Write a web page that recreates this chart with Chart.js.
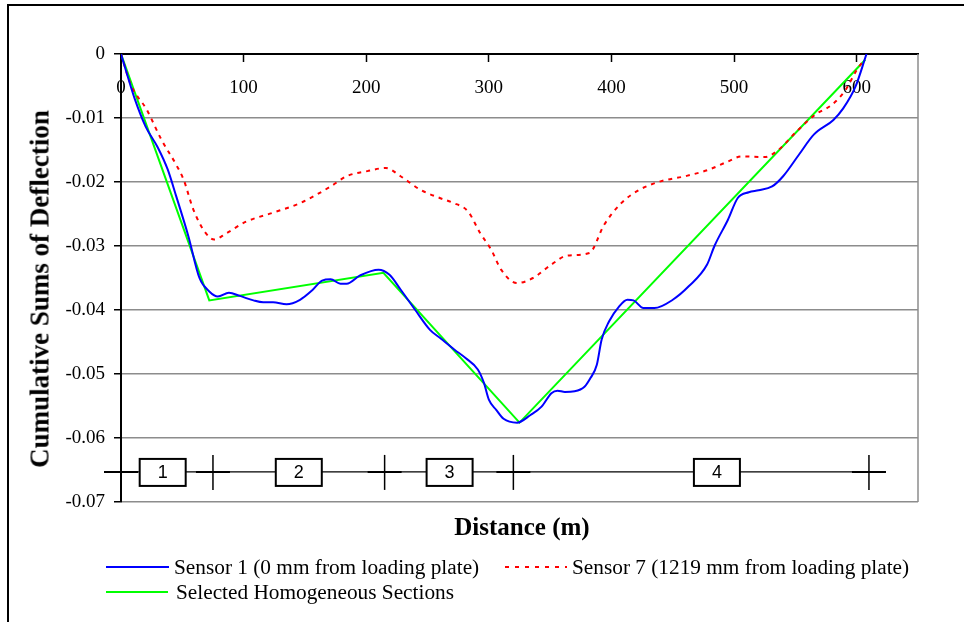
<!DOCTYPE html>
<html>
<head>
<meta charset="utf-8">
<script src="https://cdn.jsdelivr.net/npm/chart.js@4.4.1/dist/chart.umd.min.js"></script>
<style>
  html, body { margin: 0; padding: 0; background: #fff; }
  #wrap { position: relative; width: 964px; height: 622px; overflow: hidden; }
  #frame { position: absolute; left: 7px; top: 4px; width: 1000px; height: 700px; border-left: 2px solid #000; border-top: 2px solid #000; }
  canvas { position: absolute; left: 0; top: 0; }
  .txt { position: absolute; font-family: "Liberation Serif", "Times New Roman", serif; color: #000; white-space: nowrap; }
  .ytitle { font-weight: bold; font-size: 27px; left: 40px; top: 289px; transform: translate(-50%, -50%) rotate(-90deg); }
  .xtitle { font-weight: bold; font-size: 25px; left: 522px; top: 527px; transform: translate(-50%, -50%); }
  .leg { font-size: 21.3px; line-height: 24px; }
  .swatch { position: absolute; height: 2px; }
</style>
</head>
<body>
<div id="wrap">
  <div id="frame"></div>
  <canvas id="chart" width="964" height="622"></canvas>
  <div class="txt ytitle">Cumulative Sums of Deflection</div>
  <div class="txt xtitle">Distance (m)</div>
  <div class="swatch" style="left:106px; top:566px; width:63px; background:#0000ff;"></div>
  <div class="txt leg" style="left:174px; top:555px;">Sensor 1 (0 mm from loading plate)</div>
  <div class="swatch" style="left:505px; top:566px; width:62px; background:repeating-linear-gradient(to right, #ff0000 0 4px, transparent 4px 10px);"></div>
  <div class="txt leg" style="left:572px; top:555px;">Sensor 7 (1219 mm from loading plate)</div>
  <div class="swatch" style="left:106px; top:591px; width:62px; background:#00ff00;"></div>
  <div class="txt leg" style="left:176px; top:580px;">Selected Homogeneous Sections</div>
</div>
<script>
// Sensor 1 (0 mm from loading plate)
const sensor1Dist = [0, 5, 11, 20, 30, 38, 45, 55, 64, 72, 79, 88, 97, 108, 116, 124, 135, 146, 156, 164,
  171, 179, 184, 195, 210, 219, 228, 240, 252, 261, 272, 281, 291, 296, 300, 306, 312, 323, 334, 343,
  351, 356, 362, 370, 378, 383, 388, 392, 398, 406, 413, 418, 426, 435, 450, 463, 478, 484, 495, 503,
  512, 520, 531, 540, 553, 565, 581, 589, 599, 608];
const sensor1Vals = [0, -0.0032, -0.0069, -0.0113, -0.0146, -0.0180, -0.0222, -0.0285, -0.0350, -0.0371,
  -0.0379, -0.0373, -0.0378, -0.0385, -0.0388, -0.0388, -0.0391, -0.0384, -0.0369, -0.0354,
  -0.0352, -0.0359, -0.0359, -0.0346, -0.0337, -0.0345, -0.0368, -0.0400, -0.0431, -0.0445,
  -0.0462, -0.0475, -0.0493, -0.0514, -0.0540, -0.0556, -0.0570, -0.0576, -0.0564, -0.0551,
  -0.0530, -0.0526, -0.0528, -0.0527, -0.0520, -0.0506, -0.0486, -0.0446, -0.0418, -0.0395,
  -0.0384, -0.0385, -0.0397, -0.0397, -0.0384, -0.0363, -0.0329, -0.0300, -0.0259, -0.0225,
  -0.0216, -0.0213, -0.0207, -0.0191, -0.0157, -0.0126, -0.0103, -0.0085, -0.0051, 0];

// Sensor 7 (1219 mm from loading plate)
const sensor7Dist = [0, 8, 21, 33, 45, 51, 59, 68, 76, 86, 102, 124, 146, 171, 184, 201, 216, 228, 244, 260,
  270, 283, 293, 302, 310, 323, 336, 351, 364, 382, 394, 408, 423, 440, 460, 479, 495, 506, 525, 536,
  550, 566, 580, 591, 600, 605];
const sensor7Vals = [0, -0.0048, -0.0087, -0.0134, -0.0173, -0.0196, -0.0243, -0.0277, -0.0290, -0.0280,
  -0.0262, -0.0248, -0.0233, -0.0207, -0.0191, -0.0183, -0.0178, -0.0191, -0.0212, -0.0225,
  -0.0232, -0.0246, -0.0280, -0.0306, -0.0337, -0.0358, -0.0350, -0.0329, -0.0315, -0.0311,
  -0.0267, -0.0233, -0.0212, -0.0199, -0.0191, -0.0181, -0.0168, -0.0160, -0.0161, -0.0150,
  -0.0123, -0.0095, -0.0079, -0.0056, -0.0025, -0.0012];

// Selected homogeneous sections (fitted line)
const sectionDist = [0, 72, 214, 325, 607];
const sectionVals = [0, -0.0385, -0.0342, -0.0576, -0.0009];

// section marker bar under the curves
const sectionBounds = [0, 75, 215, 320, 610];
const sectionLabels = ['1', '2', '3', '4'];
const sectionLabelPos = [34, 145, 268, 486];
const sectionLevel = -0.0653;

const toPoints = (xs, ys) => xs.map((x, i) => ({ x: x, y: ys[i] }));

const serif = '"Liberation Serif", "Times New Roman", serif';

const sectionBar = {
  id: 'sectionBar',
  beforeDatasetsDraw(chart) {
    const { ctx, chartArea } = chart;
    ctx.save();
    ctx.strokeStyle = '#8c8c8c';
    ctx.lineWidth = 1.5;
    ctx.beginPath();
    ctx.moveTo(chartArea.right, chartArea.top);
    ctx.lineTo(chartArea.right, chartArea.bottom);
    ctx.stroke();
    ctx.restore();
  },
  afterDatasetsDraw(chart) {
    const { ctx, scales: { x, y } } = chart;
    const yy = y.getPixelForValue(sectionLevel);
    const first = x.getPixelForValue(sectionBounds[0]);
    const last = x.getPixelForValue(sectionBounds[sectionBounds.length - 1]);
    ctx.save();
    ctx.strokeStyle = '#000';
    ctx.lineWidth = 1.2;
    ctx.beginPath();
    ctx.moveTo(first - 17, yy);
    ctx.lineTo(last + 17, yy);
    ctx.stroke();

    sectionBounds.forEach(b => {
      const px = x.getPixelForValue(b);
      ctx.lineWidth = 2;
      ctx.beginPath();
      ctx.moveTo(px - 17, yy);
      ctx.lineTo(px + 17, yy);
      ctx.stroke();
      ctx.lineWidth = 1.5;
      ctx.beginPath();
      ctx.moveTo(px, yy - 17);
      ctx.lineTo(px, yy + 18);
      ctx.stroke();
    });

    ctx.font = '18px "Liberation Sans", Arial, sans-serif';
    ctx.textAlign = 'center';
    ctx.textBaseline = 'middle';
    sectionLabels.forEach((lab, i) => {
      const px = x.getPixelForValue(sectionLabelPos[i]);
      ctx.fillStyle = '#fff';
      ctx.fillRect(px - 23, yy - 13, 46, 27);
      ctx.lineWidth = 2;
      ctx.strokeRect(px - 23, yy - 13, 46, 27);
      ctx.fillStyle = '#000';
      ctx.fillText(lab, px, yy + 1);
    });
    ctx.restore();
  }
};

new Chart(document.getElementById('chart'), {
  type: 'line',
  data: {
    datasets: [
      {
        label: 'Sensor 1 (0 mm from loading plate)',
        data: toPoints(sensor1Dist, sensor1Vals),
        borderColor: '#0000ff',
        borderWidth: 2,
        pointRadius: 0,
        cubicInterpolationMode: 'monotone'
      },
      {
        label: 'Sensor 7 (1219 mm from loading plate)',
        data: toPoints(sensor7Dist, sensor7Vals),
        borderColor: '#ff0000',
        borderWidth: 2,
        borderDash: [4, 5],
        pointRadius: 0,
        cubicInterpolationMode: 'monotone'
      },
      {
        label: 'Selected Homogeneous Sections',
        data: toPoints(sectionDist, sectionVals),
        borderColor: '#00ff00',
        borderWidth: 2,
        pointRadius: 0,
        tension: 0
      }
    ]
  },
  options: {
    responsive: false,
    devicePixelRatio: 1,
    animation: false,
    layout: { padding: { left: 0, top: 54, right: 46, bottom: 120 } },
    plugins: {
      legend: { display: false },
      tooltip: { enabled: false }
    },
    scales: {
      x: {
        type: 'linear',
        min: 0,
        max: 650,
        position: { y: 0 },
        afterFit: s => { s.height = 0; },
        afterBuildTicks: s => { s.ticks = s.ticks.filter(t => t.value <= 600); },
        ticks: {
          stepSize: 100,
          autoSkip: false,
          maxRotation: 0,
          minRotation: 0,
          padding: 16,
          color: '#000',
          font: { family: serif, size: 19 }
        },
        grid: {
          drawOnChartArea: false,
          drawTicks: true,
          tickLength: 7,
          tickColor: '#000',
          tickWidth: 1.5
        },
        border: { color: '#000', width: 2 }
      },
      y: {
        min: -0.07,
        max: 0,
        afterFit: s => { s.width = 121; },
        ticks: {
          stepSize: 0.01,
          padding: 9,
          color: '#000',
          font: { family: serif, size: 19 },
          callback: v => (Math.abs(v) < 1e-9 ? '0' : v.toFixed(2))
        },
        grid: {
          color: '#8c8c8c',
          lineWidth: 1.5,
          tickColor: '#000',
          tickLength: 7,
          tickWidth: 1.5
        },
        border: { color: '#000', width: 2 }
      }
    }
  },
  plugins: [sectionBar]
});
</script>
</body>
</html>
